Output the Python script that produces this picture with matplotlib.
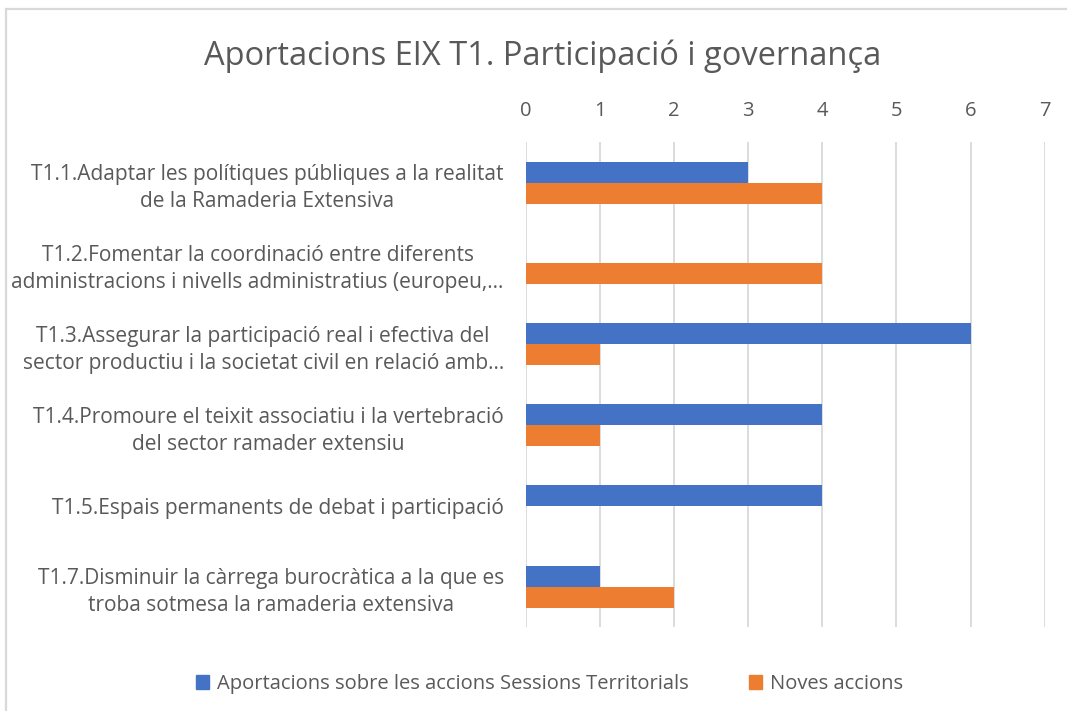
import numpy as np
import matplotlib.pyplot as plt
from matplotlib.patches import Rectangle, Patch

plt.rcParams['font.family'] = ['Open Sans', 'DejaVu Sans']

categories = [
    "T1.1.Adaptar les polítiques públiques a la realitat\nde la Ramaderia Extensiva",
    "T1.2.Fomentar la coordinació entre diferents\nadministracions i nivells administratius (europeu,...",
    "T1.3.Assegurar la participació real i efectiva del\nsector productiu i la societat civil en relació amb...",
    "T1.4.Promoure el teixit associatiu i la vertebració\ndel sector ramader extensiu",
    "T1.5.Espais permanents de debat i participació",
    "T1.7.Disminuir la càrrega burocràtica a la que es\ntroba sotmesa la ramaderia extensiva",
]
aportacions = [3, 0, 6, 4, 4, 1]
noves = [4, 4, 1, 1, 0, 2]
series_names = ["Aportacions sobre les accions Sessions Territorials", "Noves accions"]

blue = '#4472C4'
orange = '#ED7D31'
text_col = '#595959'
grid_col = '#D9D9D9'

fig = plt.figure(figsize=(10.67, 7.11), dpi=100)
ax = fig.add_axes([0.493, 0.118, 0.486, 0.682])

# chart frame
fig.patches.append(Rectangle((6 / 1067, -0.1), 1.2, 1 - 9 / 711 + 0.1,
                             transform=fig.transFigure, fill=False,
                             edgecolor=grid_col, linewidth=1.6))

y = np.arange(len(categories))
h = 0.26
ax.barh(y - h / 2, aportacions, height=h, color=blue, zorder=3)
ax.barh(y + h / 2, noves, height=h, color=orange, zorder=3)

ax.set_xlim(0, 7)
ax.set_ylim(len(categories) - 0.5, -0.5)
ax.set_xticks(range(0, 8))
ax.xaxis.tick_top()
ax.tick_params(axis='x', length=0, pad=15, labelsize=14.5, labelcolor=text_col)
ax.set_yticks(y)
ax.set_yticklabels(categories, multialignment='center')
ax.tick_params(axis='y', length=0, pad=16, labelsize=15, labelcolor=text_col)
for lbl in ax.get_yticklabels():
    lbl.set_linespacing(1.38)

ax.grid(axis='x', color=grid_col, linewidth=1.3, zorder=0)
for s in ax.spines.values():
    s.set_visible(False)

fig.text(0.509, 0.921, "Aportacions EIX T1. Participació i governança",
         ha='center', va='center', fontsize=23.5, color=text_col)

handles = [Patch(color=blue), Patch(color=orange)]
fig.legend(handles, series_names, loc='center', bbox_to_anchor=(0.515, 0.038),
           ncol=2, frameon=False, fontsize=14.5, labelcolor=text_col,
           handlelength=0.65, handleheight=0.65, handletextpad=0.4,
           columnspacing=3.0)

fig.savefig('out.png', dpi=100)
